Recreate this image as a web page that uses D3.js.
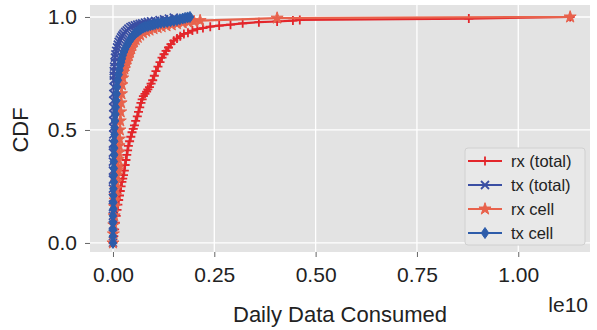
<!DOCTYPE html>
<html>
<head>
<meta charset="utf-8">
<script src="https://cdn.jsdelivr.net/npm/d3@7"></script>
<style>
  body { margin: 0; background: #fff; }
  svg { font-family: "Liberation Sans", Arial, sans-serif; }
</style>
</head>
<body>
<svg id="chart" width="597" height="330"></svg>
<script>
// values in units of 1e10 bytes, cdf in [0, 1]
const rxTotalX = [0.000,0.002,0.004,0.006,0.008,0.010,0.012,0.014,0.016,0.018,0.020,0.022,0.024,0.026,0.028,0.030,0.032,0.034,0.036,0.038,0.041,0.044,0.047,0.050,0.053,0.056,0.060,0.063,0.066,0.069,0.072,0.075,0.079,0.083,0.086,0.090,0.094,0.098,0.102,0.106,0.111,0.116,0.121,0.126,0.131,0.137,0.143,0.150,0.158,0.166,0.175,0.185,0.196,0.208,0.222,0.240,0.262,0.290,0.320,0.360,0.405,0.444,0.461,0.878,1.128];
const rxTotalY = [0.00,0.03,0.06,0.09,0.12,0.146,0.17,0.19,0.21,0.23,0.25,0.27,0.285,0.30,0.32,0.345,0.367,0.39,0.41,0.43,0.45,0.47,0.49,0.505,0.52,0.54,0.56,0.58,0.60,0.62,0.635,0.65,0.66,0.67,0.68,0.69,0.705,0.72,0.74,0.76,0.78,0.80,0.82,0.835,0.85,0.865,0.88,0.895,0.905,0.915,0.925,0.93,0.94,0.946,0.951,0.957,0.962,0.966,0.972,0.977,0.980,0.984,0.987,0.993,1.000];

const txTotalX = [0.000,0.000,0.000,0.000,0.000,0.000,0.000,0.000,0.000,0.000,0.000,0.000,0.001,0.001,0.001,0.001,0.001,0.001,0.001,0.002,0.002,0.002,0.002,0.003,0.004,0.005,0.006,0.008,0.010,0.012,0.014,0.017,0.020,0.023,0.026,0.030,0.034,0.038,0.043,0.048,0.054,0.060,0.066,0.072,0.079,0.086,0.094,0.104,0.115,0.126,0.138,0.150];
const txTotalY = [0.00,0.04,0.08,0.12,0.16,0.20,0.24,0.28,0.32,0.36,0.40,0.44,0.48,0.51,0.54,0.57,0.60,0.63,0.66,0.69,0.72,0.74,0.76,0.78,0.80,0.82,0.835,0.85,0.865,0.878,0.89,0.90,0.91,0.918,0.926,0.934,0.941,0.948,0.955,0.960,0.963,0.966,0.969,0.972,0.975,0.978,0.981,0.983,0.986,0.989,0.993,0.997];

const rxCellX = [0.000,0.001,0.002,0.003,0.004,0.005,0.006,0.007,0.008,0.009,0.010,0.011,0.012,0.013,0.014,0.015,0.016,0.017,0.018,0.019,0.020,0.021,0.022,0.024,0.026,0.028,0.030,0.033,0.036,0.039,0.042,0.045,0.048,0.052,0.056,0.061,0.067,0.074,0.082,0.090,0.100,0.110,0.120,0.132,0.145,0.158,0.172,0.186,0.200,0.215,0.405,1.128];
const rxCellY = [0.00,0.04,0.08,0.12,0.16,0.19,0.21,0.24,0.27,0.30,0.32,0.33,0.34,0.37,0.40,0.43,0.46,0.50,0.54,0.58,0.62,0.66,0.70,0.73,0.755,0.77,0.785,0.80,0.815,0.83,0.845,0.86,0.875,0.89,0.90,0.91,0.92,0.93,0.937,0.942,0.948,0.953,0.957,0.961,0.965,0.970,0.974,0.977,0.980,0.984,0.995,1.000];

const txCellX = [0.000,0.000,0.000,0.000,0.000,0.001,0.001,0.001,0.001,0.002,0.002,0.002,0.002,0.003,0.003,0.003,0.004,0.004,0.005,0.006,0.007,0.008,0.009,0.010,0.012,0.014,0.016,0.018,0.020,0.022,0.024,0.027,0.030,0.033,0.036,0.039,0.042,0.045,0.048,0.051,0.054,0.058,0.062,0.066,0.070,0.075,0.080,0.086,0.092,0.098,0.104,0.111,0.118,0.126,0.134,0.142,0.150,0.158,0.165,0.172,0.178,0.184,0.190];
const txCellY = [0.00,0.03,0.06,0.09,0.12,0.15,0.18,0.21,0.24,0.27,0.30,0.33,0.36,0.39,0.42,0.45,0.48,0.51,0.54,0.57,0.60,0.63,0.66,0.69,0.72,0.745,0.765,0.785,0.80,0.815,0.83,0.845,0.858,0.87,0.88,0.89,0.898,0.906,0.913,0.92,0.926,0.932,0.938,0.943,0.948,0.953,0.957,0.960,0.963,0.966,0.969,0.972,0.974,0.976,0.978,0.981,0.983,0.986,0.990,0.993,0.996,0.998,1.000];

const xTicks = [0, 0.25, 0.5, 0.75, 1.0];
const yTicks = [0, 0.5, 1.0];

const series = [
    { name: "rx (total)", xs: rxTotalX, ys: rxTotalY, color: "#e3262b", marker: "plus" },
    { name: "tx (total)", xs: txTotalX, ys: txTotalY, color: "#3a4ea3", marker: "cross" },
    { name: "rx cell", xs: rxCellX, ys: rxCellY, color: "#e8624c", marker: "star" },
    { name: "tx cell", xs: txCellX, ys: txCellY, color: "#2d5caa", marker: "diamond" }
];

const svg = d3.select("#chart");
const padL = 90, padR = 590, padT = 5, padB = 252;

const x = d3.scaleLinear().domain([-0.0567, 1.177]).range([padL, padR]);
const y = d3.scaleLinear().domain([-0.04, 1.053]).range([padB, padT]);

// panel + grid
svg.append("rect")
    .attr("x", padL).attr("y", padT)
    .attr("width", padR - padL).attr("height", padB - padT)
    .attr("fill", "#e3e3e3");

svg.append("g").selectAll("line").data(xTicks).enter().append("line")
    .attr("x1", d => x(d)).attr("x2", d => x(d))
    .attr("y1", padT).attr("y2", padB)
    .attr("stroke", "#fff").attr("stroke-width", 1.3);
svg.append("g").selectAll("line").data(yTicks).enter().append("line")
    .attr("x1", padL).attr("x2", padR)
    .attr("y1", d => y(d)).attr("y2", d => y(d))
    .attr("stroke", "#fff").attr("stroke-width", 1.3);

// axes
const xAxis = svg.append("g")
    .attr("transform", `translate(0,${padB})`)
    .call(d3.axisBottom(x).tickValues(xTicks).tickFormat(d3.format(".2f")).tickSize(5).tickPadding(10));
const yAxis = svg.append("g")
    .attr("transform", `translate(${padL},0)`)
    .call(d3.axisLeft(y).tickValues(yTicks).tickFormat(d3.format(".1f")).tickSize(5).tickPadding(8));

[xAxis, yAxis].forEach(a => {
    a.select(".domain").remove();
    a.selectAll(".tick line").attr("stroke", "#666");
    a.selectAll(".tick text").attr("fill", "#222").style("font-size", "21px");
});

// markers
function markerPath(type) {
    if (type === "plus") return "M-4.5,0H4.5M0,-4.5V4.5";
    if (type === "cross") return "M-4,-4L4,4M-4,4L4,-4";
    if (type === "star") return d3.symbol(d3.symbolStar, 45)();
    return "M0,-5.5L3.8,0L0,5.5L-3.8,0Z";
}

const line = d3.line().x(d => x(d[0])).y(d => y(d[1]));

const plot = svg.append("g");
series.forEach(s => {
    const pts = s.xs.map((v, i) => [v, s.ys[i]]);
    const g = plot.append("g");
    g.append("path")
        .datum(pts)
        .attr("d", line)
        .attr("fill", "none")
        .attr("stroke", s.color)
        .attr("stroke-width", 2.2);
    const filled = s.marker === "star" || s.marker === "diamond";
    g.selectAll(".m").data(pts).enter().append("path")
        .attr("class", "m")
        .attr("transform", d => `translate(${x(d[0])},${y(d[1])})`)
        .attr("d", markerPath(s.marker))
        .attr("fill", filled ? s.color : "none")
        .attr("stroke", s.color)
        .attr("stroke-width", filled ? 1 : 1.8);
});

// labels
svg.append("text")
    .attr("transform", "translate(28,130) rotate(-90)")
    .attr("text-anchor", "middle")
    .attr("fill", "#222").style("font-size", "22px")
    .text("CDF");

svg.append("text")
    .attr("x", (padL + padR) / 2).attr("y", 322)
    .attr("text-anchor", "middle")
    .attr("fill", "#222").style("font-size", "22px")
    .text("Daily Data Consumed");

svg.append("text")
    .attr("x", 588).attr("y", 312)
    .attr("text-anchor", "end")
    .attr("fill", "#222").style("font-size", "21px")
    .text("le10");

// legend
const legend = svg.append("g");
legend.append("rect")
    .attr("x", 465).attr("y", 148)
    .attr("width", 120).attr("height", 97)
    .attr("rx", 3)
    .attr("fill", "#e8e8e8")
    .attr("stroke", "#d0d0d0");

series.forEach((s, i) => {
    const ly = 161 + i * 24;
    legend.append("line")
        .attr("x1", 468).attr("x2", 502)
        .attr("y1", ly).attr("y2", ly)
        .attr("stroke", s.color).attr("stroke-width", 2.2);
    const filled = s.marker === "star" || s.marker === "diamond";
    legend.append("path")
        .attr("transform", `translate(485,${ly})`)
        .attr("d", markerPath(s.marker))
        .attr("fill", filled ? s.color : "none")
        .attr("stroke", s.color)
        .attr("stroke-width", filled ? 1 : 1.8);
    legend.append("text")
        .attr("x", 511).attr("y", ly)
        .attr("dy", "0.35em")
        .attr("fill", "#222").style("font-size", "16.5px")
        .text(s.name);
});
</script>
</body>
</html>
